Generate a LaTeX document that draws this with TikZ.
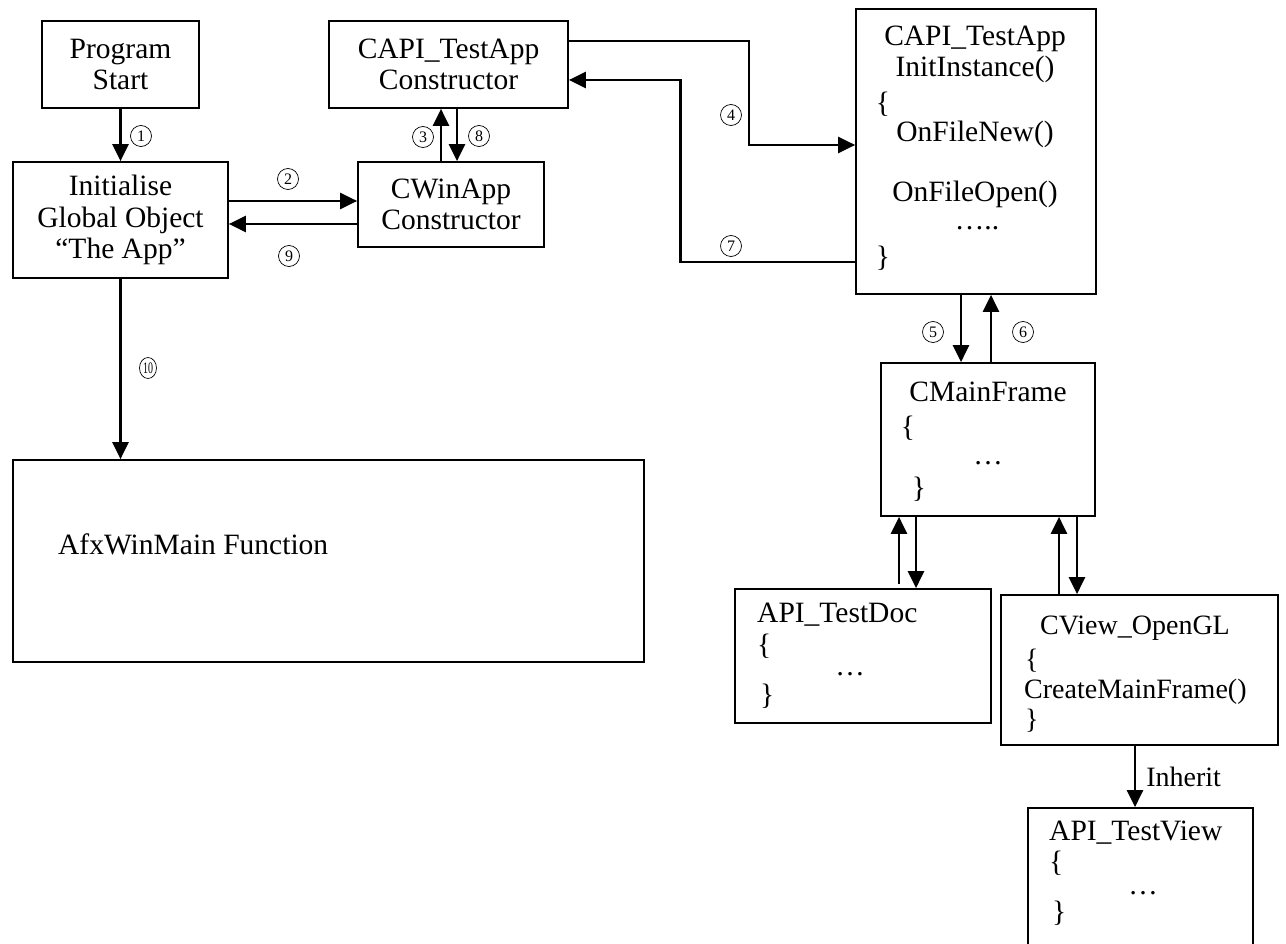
\documentclass[tikz,border=0pt]{standalone}
\usepackage{fontspec}
\setmainfont{Liberation Serif}
\usetikzlibrary{arrows.meta,shapes.geometric}

\tikzset{
  box/.style={draw, line width=1.7pt, inner sep=0pt, align=center,
              font=\fontsize{29.5}{31.5}\selectfont},
  txt/.style={inner sep=0pt, font=\fontsize{29.5}{31.5}\selectfont,
              text height=19.5pt, text depth=0pt},
  smalltxt/.style={txt, font=\fontsize{28}{30}\selectfont},
  dotline/.style={inner sep=0pt, font=\fontsize{29.5}{31.5}\selectfont, anchor=base},
  arr/.style={line width=2.7pt, -{Triangle[length=17pt,width=16pt]}},
  num/.style={circle, draw, line width=0.7pt, inner sep=0pt, minimum size=21pt,
              font=\fontsize{16}{16}\selectfont},
  numwide/.style={ellipse, draw, line width=0.7pt, inner sep=0pt,
              minimum width=17pt, minimum height=21pt,
              font=\fontsize{16}{16}\selectfont},
}

\begin{document}
\begin{tikzpicture}[x=1pt,y=-1pt]
\useasboundingbox (0,0) rectangle (1286,944);

% ---- boxes ----
\node[box, minimum width=157pt, minimum height=87pt] (ps) at (120.5,64.5) {Program\\Start};
\node[box, minimum width=215pt, minimum height=116pt] (init) at (120.5,220) {Initialise\\Global Object\\“The App”};
\node[box, minimum width=239pt, minimum height=87pt] (capc) at (448.5,64.5) {CAPI\_TestApp\\Constructor};
\node[box, minimum width=186pt, minimum height=85pt] (cwin) at (451,204.5) {CWinApp\\Constructor};
\node[box, minimum width=240pt, minimum height=285pt] (initi) at (976,151.5) {};
\node[box, minimum width=214pt, minimum height=153pt] (mainf) at (988,439.5) {};
\node[box, minimum width=256pt, minimum height=134pt] (doc) at (863,656) {};
\node[box, minimum width=277pt, minimum height=150pt] (cview) at (1139.5,670) {};
\node[box, minimum width=225pt, minimum height=142pt] (tview) at (1140.5,879) {};
\node[box, minimum width=631pt, minimum height=202pt] (afx) at (328.5,561) {};

% ---- box contents ----
\node[txt] (ii1) at (975,36) {CAPI\_TestApp};
\node[txt] (ii2) at (975,67) {InitInstance()};
\node[txt] (ii3) at (883,103) {\{};
\node[txt] (ii4) at (975,132) {OnFileNew()};
\node[txt] (ii5) at (975,192) {OnFileOpen()};
\node[dotline] (ii6) at (977,230) {…..};
\node[txt] (ii7) at (883,257) {\}};

\node[txt] (mf1) at (988,392) {CMainFrame};
\node[txt] (mf2) at (908,427) {\{};
\node[dotline] (mf3) at (988,464) {…};
\node[txt] (mf4) at (919,488) {\}};

\node[txt, anchor=west] (dc1) at (757,613) {API\_TestDoc};
\node[txt, anchor=west] (dc2) at (757,645) {\{};
\node[dotline] (dc3) at (850,675) {…};
\node[txt, anchor=west] (dc4) at (760,695) {\}};

\node[smalltxt, anchor=west] (cv1) at (1040,625) {CView\_OpenGL};
\node[smalltxt, anchor=west] (cv2) at (1025,659) {\{};
\node[smalltxt, anchor=west] (cv3) at (1024,689) {CreateMainFrame()};
\node[smalltxt, anchor=west] (cv4) at (1025,719) {\}};

\node[txt, anchor=west] (tv1) at (1049,831) {API\_TestView};
\node[txt, anchor=west] (tv2) at (1049,862) {\{};
\node[dotline] (tv3) at (1143,894) {…};
\node[txt, anchor=west] (tv4) at (1052,912) {\}};

\node[txt, anchor=west] (afxt) at (58,545) {AfxWinMain Function};

% ---- connectors ----
\draw[arr] (ps.south) -- (init.north);
\draw[arr] ([yshift=19pt]init.east) -- ([yshift=3.5pt]cwin.west);
\draw[arr] ([yshift=-19.5pt]cwin.west) -- ([yshift=-4pt]init.east);
\draw[arr] ([xshift=-10pt]cwin.north) -- ([xshift=-7.5pt]capc.south);
\draw[arr] ([xshift=8.5pt]capc.south) -- ([xshift=6pt]cwin.north);
\draw[arr] ([yshift=23.5pt]capc.east) -- ++(180,0) |- ([yshift=6.5pt]initi.west);
\draw[arr] ([yshift=-110.5pt]initi.west) -- ++(-175,0) |- ([yshift=-15.5pt]capc.east);
\draw[arr] ([xshift=-15pt]initi.south) -- ([xshift=-27pt]mainf.north);
\draw[arr] ([xshift=3pt]mainf.north) -- ([xshift=15pt]initi.south);
\draw[arr] (init.south) -- (init.south |- afx.north);
\draw[arr] ([xshift=36pt,yshift=4pt]doc.north) -- ([xshift=-89pt]mainf.south);
\draw[arr] ([xshift=-72pt]mainf.south) -- ([xshift=53pt]doc.north);
\draw[arr] ([xshift=-80.5pt]cview.north) -- ([xshift=71pt]mainf.south);
\draw[arr] ([xshift=89pt]mainf.south) -- ([xshift=-62.5pt]cview.north);
\draw[arr] ([xshift=-4.5pt]cview.south) -- node[midway, right, inner sep=0pt, xshift=10pt,
    font=\fontsize{28}{30}\selectfont] (inh) {Inherit} ([xshift=-5.5pt]tview.north);

% ---- step numbers ----
\node[num] (n1) at (141,136) {1};
\node[num] (n2) at (288,179) {2};
\node[num] (n3) at (423,137) {3};
\node[num] (n4) at (731,115) {4};
\node[num] (n5) at (933,332) {5};
\node[num] (n6) at (1023,332) {6};
\node[num] (n7) at (731,246) {7};
\node[num] (n8) at (479,136) {8};
\node[num] (n9) at (289,256) {9};
\node[numwide] (n10) at (148,368) {\scalebox{0.62}[1]{10}};
\end{tikzpicture}
\end{document}
